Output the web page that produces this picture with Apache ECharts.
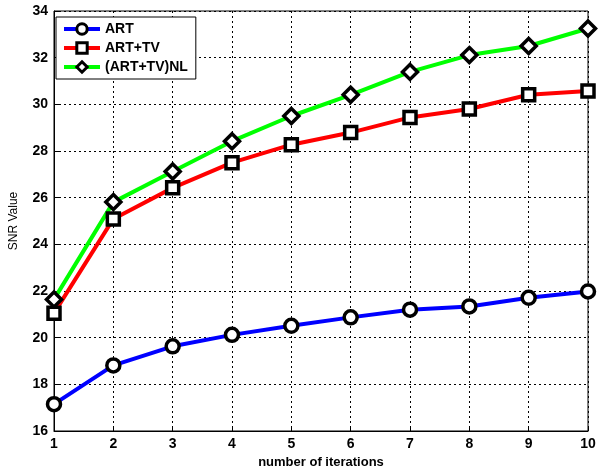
<!DOCTYPE html>
<html><head><meta charset="utf-8">
<script src="https://cdn.jsdelivr.net/npm/echarts@6/dist/echarts.min.js"></script>
<style>html,body{margin:0;padding:0;background:#fff}#c{width:600px;height:474px}</style>
</head><body><div id="c"></div>
<script>
var iterations = [1,2,3,4,5,6,7,8,9,10];
var artValues = [17.15,18.81,19.63,20.12,20.51,20.87,21.2,21.34,21.71,21.98];
var artTvValues = [21.05,25.09,26.42,27.5,28.27,28.79,29.44,29.8,30.41,30.57];
var artTvNlValues = [21.64,25.81,27.12,28.42,29.5,30.41,31.39,32.11,32.5,33.25];
var seriesNames = ['ART','ART+TV','(ART+TV)NL'];

function pairs(vals){ return iterations.map(function(x,i){ return [x, vals[i]]; }); }
var font = 'Liberation Sans, Arial, sans-serif';
function mk(name, vals, color, symbol, size){
  return {
    name: name, type: 'line', data: pairs(vals),
    symbol: symbol, symbolSize: size, showAllSymbol: true,
    lineStyle: {color: color, width: 4},
    itemStyle: {color: '#fff', borderColor: '#000', borderWidth: 3.5},
    emphasis: {disabled: true}, animation: false, z: 3
  };
}
var chart = echarts.init(document.getElementById('c'));
chart.setOption({
  animation: false,
  grid: {left: 50, right: 12, top: 11, bottom: 43, show: true, borderColor: '#000', borderWidth: 1, backgroundColor: 'transparent'},
  legend: {
    left: 56, top: 17, orient: 'vertical', itemWidth: 36, itemHeight: 13, itemGap: 5,
    padding: [5, 8, 5, 6],
    backgroundColor: '#fff', borderColor: '#000', borderWidth: 1,
    itemStyle: {borderWidth: 3},
    lineStyle: {width: 4},
    textStyle: {fontFamily: font, fontWeight: 'bold', fontSize: 14, color: '#000'},
    data: seriesNames
  },
  xAxis: {
    type: 'value', min: 1, max: 10, interval: 1,
    name: 'number of iterations', nameLocation: 'middle', nameGap: 25,
    nameTextStyle: {fontFamily: font, fontWeight: 'bold', fontSize: 13, color: '#000'},
    axisLine: {show: true, lineStyle: {color: '#000', width: 1}},
    axisTick: {show: true, inside: true, length: 5, lineStyle: {color: '#000'}},
    axisLabel: {fontFamily: font, fontWeight: 'bold', fontSize: 14, color: '#000', margin: 6},
    splitLine: {show: true, lineStyle: {color: '#000', type: [2, 3], width: 1}}
  },
  yAxis: {
    type: 'value', min: 16, max: 34, interval: 2,
    name: 'SNR Value', nameLocation: 'middle', nameGap: 34, nameRotate: 90,
    nameTextStyle: {fontFamily: font, fontSize: 12, color: '#000'},
    axisLine: {show: true, lineStyle: {color: '#000', width: 1}},
    axisTick: {show: true, inside: true, length: 5, lineStyle: {color: '#000'}},
    axisLabel: {fontFamily: font, fontWeight: 'bold', fontSize: 14, color: '#000', margin: 6},
    splitLine: {show: true, lineStyle: {color: '#000', type: [2, 3], width: 1}}
  },
  series: [
    mk(seriesNames[0], artValues, '#0000ff', 'circle', 13),
    mk(seriesNames[1], artTvValues, '#ff0000', 'rect', 12),
    mk(seriesNames[2], artTvNlValues, '#00ff00', 'diamond', 15)
  ]
});
</script></body></html>
